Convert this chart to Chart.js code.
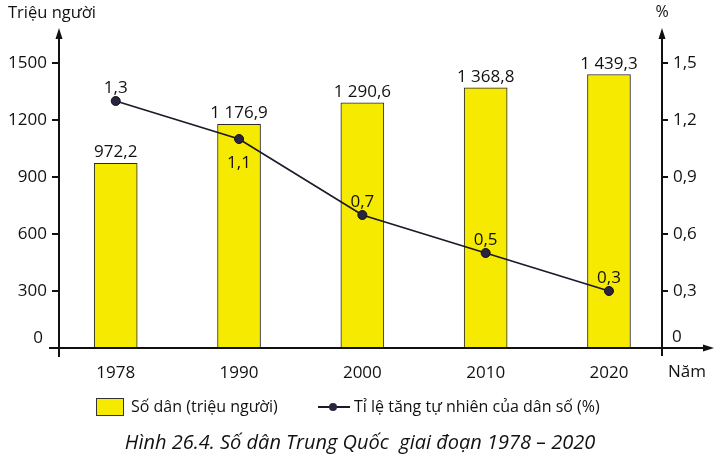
<!DOCTYPE html>
<html lang="vi">
<head>
    <meta charset="UTF-8">
    <title>Số dân Trung Quốc giai đoạn 1978 – 2020</title>
    <script src="https://cdn.jsdelivr.net/npm/chart.js"></script>
    <style>
        body { margin: 0; background: #ffffff; }
        #wrap { width: 723px; height: 467px; }
    </style>
</head>
<body>
    <div id="wrap"><canvas id="chart" width="723" height="467"></canvas></div>
    <script>
        // data
        const years = ['1978', '1990', '2000', '2010', '2020'];
        const population = [972.2, 1176.9, 1290.6, 1368.8, 1439.3];   // triệu người
        const growthRate = [1.3, 1.1, 0.7, 0.5, 0.3];                 // %
        const leftTicks = [0, 300, 600, 900, 1200, 1500];
        const rightTicks = [0, 0.3, 0.6, 0.9, 1.2, 1.5];

        const FONT = "'Open Sans', 'Noto Sans', sans-serif";
        const INK = '#111111';

        function fmtPop(v) {
            const parts = v.toFixed(1).split('.');
            return parts[0].replace(/\B(?=(\d{3})+(?!\d))/g, ' ') + ',' + parts[1];
        }
        function fmtRate(v) {
            return v === 0 ? '0' : v.toFixed(1).replace('.', ',');
        }

        const decor = {
            id: 'decor',
            afterDraw(chart) {
                const ctx = chart.ctx;
                const x = chart.scales.x, y = chart.scales.y;
                const xl = x.left, xr = x.right;
                const y0 = y.getPixelForValue(0);
                const yTop = y.getPixelForValue(1500) - 35;

                ctx.save();
                ctx.strokeStyle = '#111';
                ctx.fillStyle = '#111';
                ctx.lineWidth = 2;
                ctx.beginPath();
                ctx.moveTo(xl, y0 + 9); ctx.lineTo(xl, yTop + 4);
                ctx.moveTo(xr, y0 + 8); ctx.lineTo(xr, yTop + 4);
                ctx.moveTo(xl - 10, y0); ctx.lineTo(xr + 46, y0);
                ctx.stroke();
                // arrow heads
                const arrowUp = (ax, ay) => {
                    ctx.beginPath();
                    ctx.moveTo(ax, ay); ctx.lineTo(ax - 3.5, ay + 11); ctx.lineTo(ax + 3.5, ay + 11);
                    ctx.closePath(); ctx.fill();
                };
                arrowUp(xl, yTop);
                arrowUp(xr, yTop);
                ctx.beginPath();
                ctx.moveTo(xr + 52, y0); ctx.lineTo(xr + 41, y0 - 3.5); ctx.lineTo(xr + 41, y0 + 3.5);
                ctx.closePath(); ctx.fill();

                // axis names and the two zero labels, lifted off the baseline
                ctx.fillStyle = INK;
                ctx.font = '16.5px ' + FONT;
                ctx.textBaseline = 'middle';
                ctx.textAlign = 'left';
                ctx.fillText('Triệu người', 8, 13);
                ctx.font = '17px ' + FONT;
                ctx.fillText('Năm', xr + 6, 372);
                ctx.fillText('0', xr + 10, y0 - 11);
                ctx.textAlign = 'right';
                ctx.fillText('0', xl - 16, y0 - 10);
                ctx.textAlign = 'center';
                ctx.font = '16px ' + FONT;
                ctx.fillText('%', xr, 12);

                // data labels
                ctx.font = '17px ' + FONT;
                ctx.textBaseline = 'alphabetic';
                chart.getDatasetMeta(0).data.forEach((bar, i) => {
                    ctx.fillText(fmtPop(population[i]), bar.x, bar.y - 6);
                });
                chart.getDatasetMeta(1).data.forEach((pt, i) => {
                    const below = growthRate[i] === 1.1;
                    ctx.fillText(fmtRate(growthRate[i]), pt.x, below ? pt.y + 29 : pt.y - 8);
                });

                // legend
                const ly = 407;
                ctx.fillStyle = '#f5ea00';
                ctx.fillRect(96, ly - 8, 27, 17);
                ctx.strokeStyle = '#333';
                ctx.lineWidth = 1;
                ctx.strokeRect(96.5, ly - 8.5, 27, 17);
                ctx.fillStyle = INK;
                ctx.textAlign = 'left';
                ctx.textBaseline = 'middle';
                ctx.font = '16px ' + FONT;
                ctx.fillText('Số dân (triệu người)', 131, ly);
                ctx.strokeStyle = '#1c1a2a';
                ctx.lineWidth = 2;
                ctx.beginPath(); ctx.moveTo(318, ly); ctx.lineTo(350, ly); ctx.stroke();
                ctx.fillStyle = '#2a2440';
                ctx.beginPath(); ctx.arc(333, ly, 4, 0, Math.PI * 2); ctx.fill();
                ctx.fillStyle = INK;
                ctx.fillText('Tỉ lệ tăng tự nhiên của dân số (%)', 354, ly);

                // caption
                ctx.textAlign = 'center';
                ctx.font = 'italic 20px ' + FONT;
                ctx.fillText('Hình 26.4. Số dân Trung Quốc  giai đoạn 1978 – 2020', 360, 443);
                ctx.restore();
            }
        };

        new Chart(document.getElementById('chart'), {
            data: {
                datasets: [
                    {
                        type: 'bar',
                        label: 'Số dân (triệu người)',
                        data: population.map((v, i) => ({ x: i, y: v })),
                        yAxisID: 'y',
                        backgroundColor: '#f5ea00',
                        borderColor: '#2a2a2a',
                        borderWidth: 1,
                        barThickness: 43,
                        order: 1
                    },
                    {
                        type: 'line',
                        label: 'Tỉ lệ tăng tự nhiên của dân số (%)',
                        data: growthRate.map((v, i) => ({ x: i, y: v })),
                        yAxisID: 'y1',
                        borderColor: '#1c1a2a',
                        borderWidth: 1.8,
                        pointRadius: 4.5,
                        pointBackgroundColor: '#2a2440',
                        pointBorderColor: '#111',
                        pointBorderWidth: 1,
                        tension: 0,
                        order: 0
                    }
                ]
            },
            options: {
                responsive: false,
                animation: false,
                layout: { padding: { top: 63, left: 0, right: 0, bottom: 0 } },
                plugins: { legend: { display: false }, tooltip: { enabled: false } },
                scales: {
                    x: {
                        type: 'linear',
                        offset: false,
                        min: -0.46,
                        max: 4.43,
                        afterBuildTicks: s => { s.ticks = years.map((_, i) => ({ value: i })); },
                        afterFit: s => { s.height = 119; },
                        grid: { display: false, drawTicks: false },
                        border: { display: false },
                        ticks: {
                            callback: v => years[v],
                            padding: 15,
                            color: INK,
                            font: { family: FONT, size: 17 }
                        }
                    },
                    y: {
                        position: 'left',
                        min: 0,
                        max: 1500,
                        afterBuildTicks: s => { s.ticks = leftTicks.map(v => ({ value: v })); },
                        afterFit: s => { s.width = 59; },
                        grid: { drawOnChartArea: false, drawTicks: true, tickLength: 7, color: '#111', lineWidth: 2 },
                        border: { display: false },
                        ticks: {
                            padding: 5,
                            callback: v => (v === 0 ? '' : String(v)),
                            color: INK,
                            font: { family: FONT, size: 17 }
                        }
                    },
                    y1: {
                        position: 'right',
                        min: 0,
                        max: 1.5,
                        afterBuildTicks: s => { s.ticks = rightTicks.map(v => ({ value: v })); },
                        afterFit: s => { s.width = 61; },
                        grid: { drawOnChartArea: false, drawTicks: true, tickLength: 6, color: '#111', lineWidth: 2 },
                        border: { display: false },
                        ticks: {
                            padding: 5,
                            callback: v => (v === 0 ? '' : fmtRate(v)),
                            color: INK,
                            font: { family: FONT, size: 17 }
                        }
                    }
                }
            },
            plugins: [decor]
        });
    </script>
</body>
</html>
